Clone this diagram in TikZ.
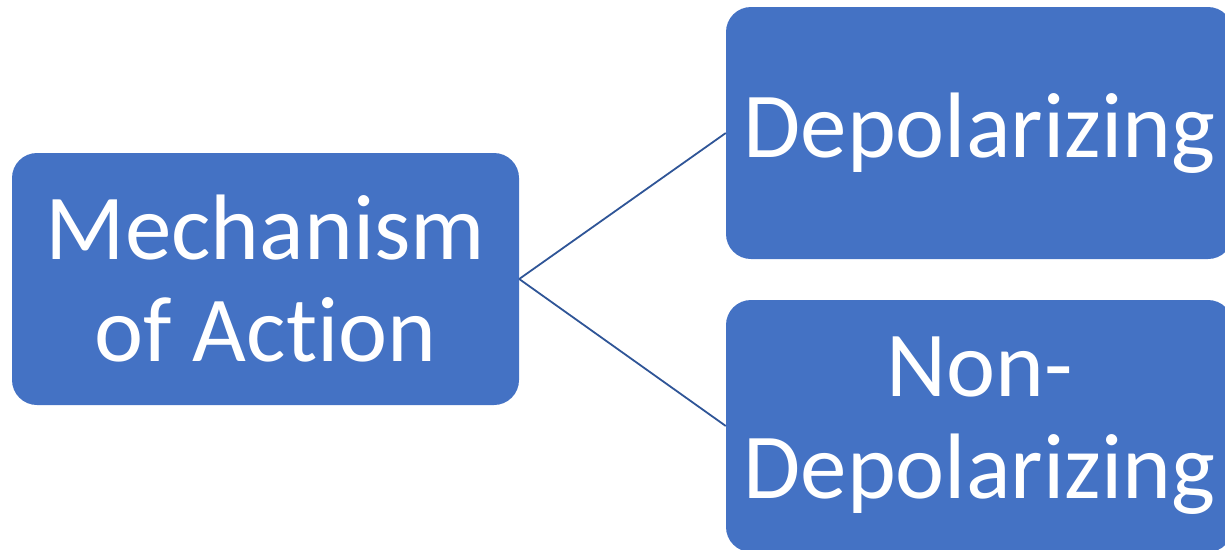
\documentclass[tikz,border=0pt]{standalone}
\usepackage{fontspec}
\setmainfont{Carlito}[Ligatures=NoCommon]
\definecolor{boxblue}{HTML}{4472C4}
\definecolor{lineblue}{HTML}{2F5597}
\tikzset{
    mbox/.style={rectangle, rounded corners=25pt, fill=boxblue, text=white,
        minimum width=507pt, minimum height=252pt, align=center,
        font=\fontsize{93}{102}\selectfont, inner sep=0pt},
    link/.style={line width=1.8pt, lineblue}
}
\begin{document}
\begin{tikzpicture}[x=1pt,y=-1pt]
    \useasboundingbox (0,0) rectangle (1225,549);
    \node[mbox] (mech) at (265.5,279) {Mechanism\\of Action};
    \node[mbox] (depol) at (979.5,133) {Depolarizing};
    \node[mbox] (nondepol) at (979.5,426) {Non-\\Depolarizing};
    \draw[link] (mech.east) -- (depol.west);
    \draw[link] (mech.east) -- (nondepol.west);
\end{tikzpicture}
\end{document}
